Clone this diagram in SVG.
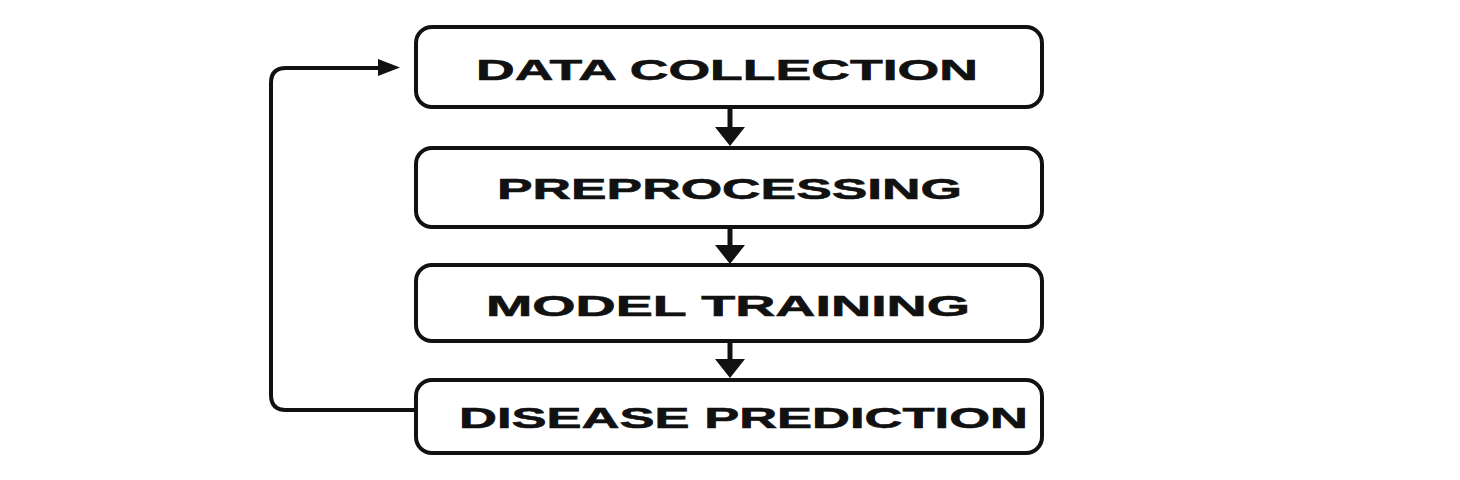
<svg xmlns="http://www.w3.org/2000/svg" width="1460" height="480" viewBox="0 0 1460 480">
<style>
.box{fill:#fff;stroke:#111;stroke-width:4}
.lbl{font-family:"Liberation Sans",Arial,sans-serif;font-weight:bold;font-size:30px;fill:#111;stroke:#111;stroke-width:0.6}
.ln{fill:none;stroke:#111;stroke-width:4}
.sh{fill:none;stroke:#111;stroke-width:5}
.hd{fill:#111}
</style>
<rect width="1460" height="480" fill="#fff"/>
<g id="connectors">
<path class="ln" d="M416,410 H286 Q271,410 271,395 V83 Q271,68 286,68 H380"/>
<polygon class="hd" points="378,59 400,67.5 378,76"/>
<line class="sh" x1="730" y1="107" x2="730" y2="130"/>
<polygon class="hd" points="715,127 745,127 730,146"/>
<line class="sh" x1="730" y1="227" x2="730" y2="248"/>
<polygon class="hd" points="715,245 745,245 730,264"/>
<line class="sh" x1="730" y1="341" x2="730" y2="362"/>
<polygon class="hd" points="715,359 745,359 730,378"/>
</g>
<g id="n1">
<rect class="box" x="416" y="27" width="626" height="80" rx="16"/>
<text class="lbl" x="476" y="79.5" textLength="502" lengthAdjust="spacingAndGlyphs">DATA COLLECTION</text>
</g>
<g id="n2">
<rect class="box" x="416" y="148" width="626" height="79" rx="16"/>
<text class="lbl" x="497" y="198.5" textLength="465" lengthAdjust="spacingAndGlyphs">PREPROCESSING</text>
</g>
<g id="n3">
<rect class="box" x="416" y="265" width="626" height="76" rx="16"/>
<text class="lbl" x="486" y="315.5" textLength="484" lengthAdjust="spacingAndGlyphs">MODEL TRAINING</text>
</g>
<g id="n4">
<rect class="box" x="416" y="380" width="626" height="73" rx="16"/>
<text class="lbl" x="459" y="427.5" textLength="569" lengthAdjust="spacingAndGlyphs">DISEASE PREDICTION</text>
</g>
</svg>
